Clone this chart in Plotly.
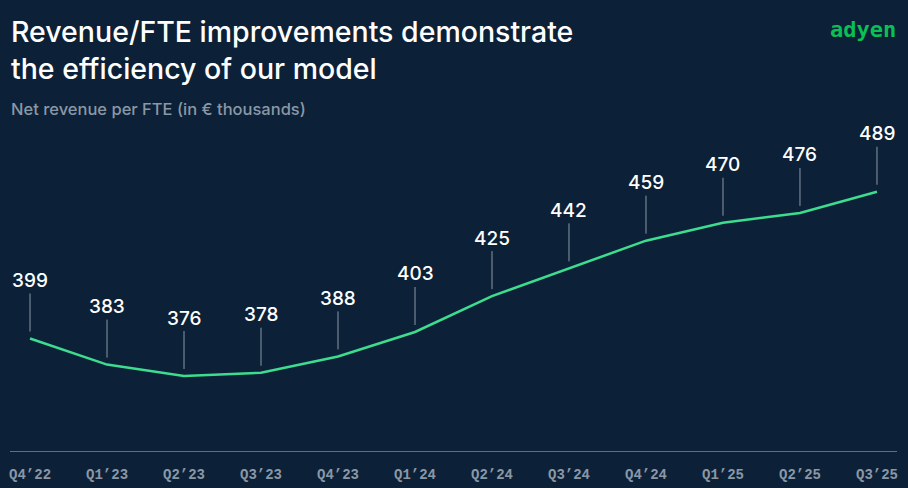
import plotly.graph_objects as go

# Net revenue per FTE, in EUR thousands
quarters = ["Q4'22", "Q1'23", "Q2'23", "Q3'23", "Q4'23", "Q1'24",
            "Q2'24", "Q3'24", "Q4'24", "Q1'25", "Q2'25", "Q3'25"]
revenue_per_fte = [399, 383, 376, 378, 388, 403, 425, 442, 459, 470, 476, 489]
tick_labels = ["Q4\u201922", "Q1\u201923", "Q2\u201923", "Q3\u201923", "Q4\u201923", "Q1\u201924",
               "Q2\u201924", "Q3\u201924", "Q4\u201924", "Q1\u201925", "Q2\u201925", "Q3\u201925"]

BG = "#0c2137"
GREEN = "#3ddc8f"
GREY = "#8a97a6"
SANS = "Inter, Arial, sans-serif"

fig = go.Figure()
fig.add_trace(go.Scatter(
    x=quarters, y=revenue_per_fte,
    mode="lines",
    line=dict(color=GREEN, width=2.5),
    hoverinfo="x+y",
))

# value labels with thin connector lines
for q, v in zip(quarters, revenue_per_fte):
    fig.add_annotation(
        x=q, y=v, text=str(v),
        showarrow=True, arrowhead=0, arrowwidth=1, arrowcolor=GREY,
        ax=0, ay=-58, standoff=7,
        font=dict(family=SANS, size=19, color="white", weight=500),
    )

# title, subtitle, logo
fig.add_annotation(
    xref="paper", yref="paper", x=0, y=1, xshift=-1, yshift=108,
    xanchor="left", yanchor="top", align="left", showarrow=False,
    text="Revenue/FTE improvements demonstrate<br>the efficiency of our model",
    font=dict(family=SANS, size=28.5, color="white", weight=500),
)
fig.add_annotation(
    xref="paper", yref="paper", x=0, y=1, xshift=-1, yshift=23,
    xanchor="left", yanchor="top", showarrow=False,
    text="Net revenue per FTE (in \u20ac thousands)",
    font=dict(family=SANS, size=16.5, color=GREY, weight=500),
)
fig.add_annotation(
    xref="paper", yref="paper", x=1, y=1, xshift=1, yshift=105,
    xanchor="right", yanchor="top", showarrow=False,
    text="<b>adyen</b>",
    font=dict(family="DejaVu Sans Mono, monospace", size=22, color="#0abf53"),
)

fig.update_xaxes(
    type="category",
    tickvals=quarters, ticktext=tick_labels,
    range=[-0.26, 11.26],
    showgrid=False, zeroline=False, automargin=False,
    showline=True, linecolor="#5f6f80", linewidth=1,
    ticks="", ticklabelstandoff=10,
    tickfont=dict(family="Liberation Mono, DejaVu Sans Mono, monospace", size=14,
                  color=GREY, weight="bold"),
)
fig.update_yaxes(
    range=[330, 533], automargin=False,
    visible=False, showgrid=False, zeroline=False,
)

fig.update_layout(
    width=908, height=488,
    margin=dict(l=10, r=11, t=120, b=37),
    paper_bgcolor=BG, plot_bgcolor=BG,
    showlegend=False,
)

fig.write_html("out.html", config={"displayModeBar": False},
               post_script="document.body.style.margin='0';")
